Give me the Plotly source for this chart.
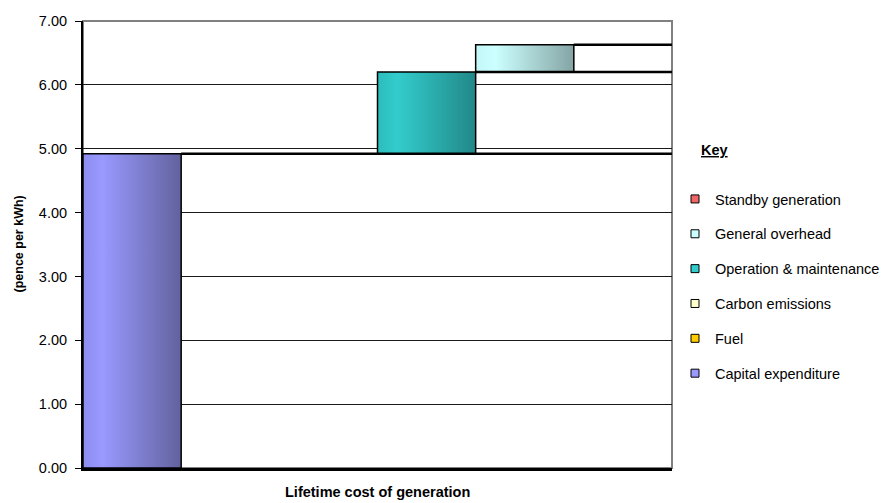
import plotly.graph_objects as go

# Cost components (pence per kWh), stacked in this order
components = ["Capital expenditure", "Fuel", "Carbon emissions",
              "Operation & maintenance", "General overhead", "Standby generation"]
values = [4.92, 0.00, 0.00, 1.28, 0.43, 0.00]
key_colors = ["#9999FF", "#FFCC00", "#FFFFCC", "#33CCCC", "#CCFFFF", "#F06666"]
gradients = [
    [[0, "#8e8ef0"], [0.2, "#9999ff"], [1, "#62629e"]],
    [[0, "#f0c000"], [0.2, "#ffcc00"], [1, "#a08000"]],
    [[0, "#f0f0c0"], [0.2, "#ffffcc"], [1, "#a0a080"]],
    [[0, "#2cbcbc"], [0.2, "#33cccc"], [1, "#228888"]],
    [[0, "#c4f6f6"], [0.2, "#ccffff"], [1, "#84a4a4"]],
    [[0, "#e06060"], [0.2, "#ff6666"], [1, "#a04040"]],
]
y_ticks = [0, 1, 2, 3, 4, 5, 6, 7]
y_tick_labels = ["0.00", "1.00", "2.00", "3.00", "4.00", "5.00", "6.00", "7.00"]

FONT = "Arial, 'Liberation Sans', sans-serif"
n = len(components)
x_end = n - 0.5

bases, tops = [], []
running = 0.0
for v in values:
    bases.append(running)
    running += v
    tops.append(running)

fig = go.Figure()

# Floating columns with a left-to-right shaded fill
for i, (name, v) in enumerate(zip(components, values)):
    if v <= 0:
        continue
    x0, x1 = i - 0.5, i + 0.5
    fig.add_trace(go.Scatter(
        x=[x0, x1, x1, x0, x0],
        y=[bases[i], bases[i], tops[i], tops[i], bases[i]],
        mode="lines", fill="toself",
        fillgradient=dict(type="horizontal", colorscale=gradients[i]),
        line=dict(color="black", width=1.5),
        showlegend=False, hoverinfo="skip",
    ))

# Running-total lines carried to the right edge of the plot
for i in range(n - 1):
    if values[i] <= 0:
        continue
    fig.add_trace(go.Scatter(
        x=[i + 0.5, x_end], y=[tops[i], tops[i]],
        mode="lines", line=dict(color="black", width=2.5),
        showlegend=False, hoverinfo="skip",
    ))

# Key entries, top of the stack listed first
for i in reversed(range(n)):
    name = components[i]
    fig.add_trace(go.Scatter(
        x=[None], y=[None], mode="markers", name=name,
        legendgroup=name,
        marker=dict(symbol="square", size=8, color=key_colors[i],
                    line=dict(color="black", width=1)),
    ))

fig.update_layout(
    width=888, height=503,
    margin=dict(l=83, r=216, t=21, b=35, autoexpand=False),
    paper_bgcolor="white", plot_bgcolor="white",
    font=dict(family=FONT, size=14.5, color="black"),
    showlegend=True,
    legend=dict(
        x=(675 - 83) / 589, xanchor="left",
        y=(468 - 183) / 447, yanchor="top",
        traceorder="grouped", tracegroupgap=13,
        font=dict(family=FONT, size=14.5, color="black"),
        bgcolor="rgba(0,0,0,0)",
    ),
    xaxis=dict(
        range=[-0.5, x_end], showticklabels=False, ticks="",
        showgrid=False, zeroline=False,
        showline=True, linecolor="black", linewidth=2.5,
        fixedrange=True,
    ),
    yaxis=dict(
        range=[0, 7], tickvals=y_ticks, ticktext=y_tick_labels,
        ticks="outside", ticklen=6, tickcolor="black", tickwidth=1,
        ticklabelstandoff=5,
        showgrid=True, gridcolor="#1a1a1a", gridwidth=1,
        zeroline=False, showline=True, linecolor="black", linewidth=2,
        tickfont=dict(family=FONT, size=14.5, color="black"),
        fixedrange=True,
    ),
    shapes=[dict(
        type="rect", xref="paper", yref="paper", x0=0, x1=1, y0=0, y1=1,
        line=dict(color="#808080", width=2), layer="below",
    )],
    annotations=[
        dict(text="<b><u>Key</u></b>", xref="paper", yref="paper",
             x=(699 - 83) / 589, y=(468 - 150) / 447,
             xanchor="left", yanchor="middle", showarrow=False,
             font=dict(family=FONT, size=14.5, color="black")),
        dict(text="<b>(pence per kWh)</b>", xref="paper", yref="paper",
             x=(18 - 83) / 589, y=0.5, textangle=-90,
             xanchor="center", yanchor="middle", showarrow=False,
             font=dict(family=FONT, size=12.5, color="black")),
        dict(text="<b>Lifetime cost of generation</b>", xref="paper", yref="paper",
             x=0.5, y=(468 - 492) / 447,
             xanchor="center", yanchor="middle", showarrow=False,
             font=dict(family=FONT, size=14.5, color="black")),
    ],
)

fig.write_html("out.html")
